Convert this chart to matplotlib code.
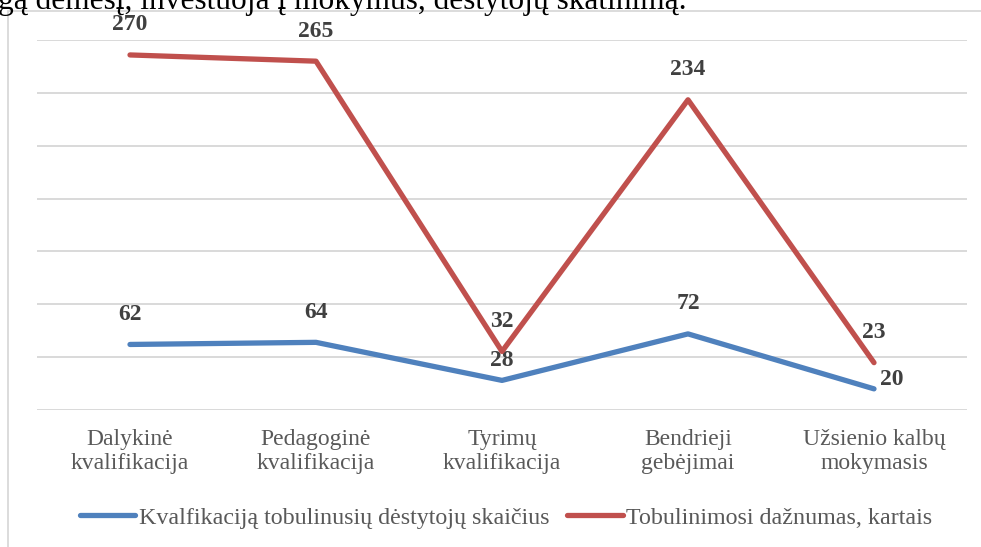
import matplotlib
matplotlib.use("Agg")
import matplotlib.pyplot as plt
from matplotlib.patches import Rectangle

categories = [
    "Dalykinė\nkvalifikacija",
    "Pedagoginė\nkvalifikacija",
    "Tyrimų\nkvalifikacija",
    "Bendrieji\ngebėjimai",
    "Užsienio kalbų\nmokymasis",
]
teachers = [62, 64, 28, 72, 20]
frequency = [270, 265, 32, 234, 23]
series_names = [
    "Kvalfikaciją tobulinusių dėstytojų skaičius",
    "Tobulinimosi dažnumas, kartais",
]
top_text = "gą dėmesį, investuoja į mokymus, dėstytojų skatinimą."

W, H = 981, 547
plt.rcParams["font.family"] = ["Liberation Serif", "DejaVu Serif"]

fig = plt.figure(figsize=(W / 100, H / 100), dpi=100)
ax = fig.add_axes([37 / W, 1 - 410 / H, 930 / W, 370 / H])
ax2 = ax.twinx()

blue = "#4F81BD"
red = "#C0504D"
x = list(range(len(categories)))

ax.plot(x, teachers, color=blue, lw=3.8, solid_capstyle="round",
        solid_joinstyle="round", label=series_names[0])
ax2.plot(x, frequency, color=red, lw=3.8, solid_capstyle="round",
         solid_joinstyle="round", label=series_names[1])

ax.set_xlim(-0.5, len(categories) - 0.5)
ax.set_ylim(0, 350)
ax.set_yticks(range(0, 351, 50))
ax.yaxis.grid(True, color="#D9D9D9", lw=1.4)
ax.set_axisbelow(True)
ax.tick_params(axis="y", left=False, labelleft=False)
ax.tick_params(axis="x", length=0, pad=14, labelsize=17, labelcolor="#595959")
ax.set_xticks(x)
ax.set_xticklabels(categories, linespacing=1.15)
for s in ax.spines.values():
    s.set_visible(False)

# second series sits on its own (hidden) scale, as in the source chart
ax2.set_ylim(-15, 282)
ax2.set_yticks([])
for s in ax2.spines.values():
    s.set_visible(False)

lab = dict(fontsize=17, fontweight="bold", color="#404040", ha="center",
           va="center", textcoords="offset points")
for i, v in enumerate(teachers):
    if i == 4:
        ax.annotate(str(v), (i, v), xytext=(4, 6.5), **{**lab, "ha": "left"})
    elif i == 2:
        ax.annotate(str(v), (i, v), xytext=(0, 14.5), **lab)
    else:
        ax.annotate(str(v), (i, v), xytext=(0, 21.6), **lab)
for i, v in enumerate(frequency):
    ax2.annotate(str(v), (i, v), xytext=(0, 21.6), **lab)

h1, l1 = ax.get_legend_handles_labels()
h2, l2 = ax2.get_legend_handles_labels()
fig.legend(h1 + h2, l1 + l2, loc="center", bbox_to_anchor=(506 / W, 1 - 517.7 / H),
           ncol=2, frameon=False, fontsize=17.3, labelcolor="#595959",
           handlelength=2.3, handletextpad=0.13, columnspacing=0.76)

# chart frame
fig.add_artist(Rectangle((8.3 / W, -0.05), 1.0, 1 - 11 / H + 0.05,
                         transform=fig.transFigure, fill=False,
                         edgecolor="#D9D9D9", lw=1.3))

# tail of the document text above the chart, cut by the image edge
fig.text(687 / W, 1 - 9 / H, top_text, ha="right", va="baseline",
         fontsize=22.6, color="black")

fig.savefig("out.png", dpi=100)
